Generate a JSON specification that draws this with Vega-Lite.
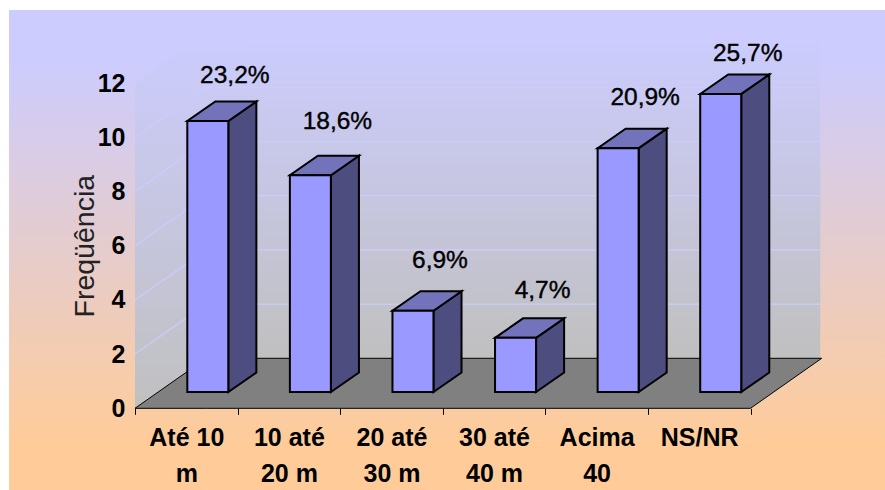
{
  "$schema": "https://vega.github.io/schema/vega-lite/v6.json",
  "width": 615.5,
  "height": 325.2,
  "autosize": "none",
  "padding": {"left": 135, "top": 83.1, "right": 134.5, "bottom": 81.7},
  "background": "white",
  "view": {"stroke": null},
  "config": {"font": "Liberation Sans"},
  "data": {
    "values": [
      {"faixa": "Até 10\nm", "freq": 10, "rotulo": "23,2%"},
      {"faixa": "10 até\n20 m", "freq": 8, "rotulo": "18,6%"},
      {"faixa": "20 até\n30 m", "freq": 3, "rotulo": "6,9%"},
      {"faixa": "30 até\n40 m", "freq": 2, "rotulo": "4,7%"},
      {"faixa": "Acima\n40", "freq": 9, "rotulo": "20,9%"},
      {"faixa": "NS/NR", "freq": 11, "rotulo": "25,7%"}
    ]
  },
  "transform": [
    {"window": [{"op": "row_number", "as": "n"}]},
    {"calculate": "datum.n - 1 + 0.51", "as": "esq"},
    {"calculate": "datum.freq + 0.6", "as": "topo"}
  ],
  "resolve": {"scale": {"x": "independent"}, "axis": {"x": "independent"}},
  "layer": [
    {
      "data": {"values": [{"parte": "painel"}]},
      "mark": {
        "type": "rect",
        "color": {
          "gradient": "linear", "x1": 0, "y1": 0, "x2": 0, "y2": 1,
          "stops": [{"offset": 0, "color": "#ccccff"}, {"offset": 0.1, "color": "#ccccff"}, {"offset": 0.9, "color": "#ffcc99"}, {"offset": 1, "color": "#ffcc99"}]
        }
      },
      "encoding": {
        "x": {"datum": -1.228, "type": "quantitative", "scale": {"domain": [0, 6], "nice": false, "zero": false}, "axis": null},
        "x2": {"datum": 7.32},
        "y": {
          "datum": 14.7, "type": "quantitative",
          "scale": {"domain": [0, 12], "nice": false, "zero": false},
          "axis": {
            "values": [0, 2, 4, 6, 8, 10, 12],
            "domain": false, "ticks": false, "grid": false, "zindex": 1,
            "labelFontSize": 25, "labelFontWeight": "bold", "labelColor": "#000000", "labelPadding": 10,
            "title": "Freqüência", "titleFontSize": 28.5, "titleFontWeight": "normal", "titleColor": "#222222", "titlePadding": -2
          }
        },
        "y2": {"datum": -3.1}
      }
    },
    {
      "data": {"values": [{"parte": "parede lateral"}]},
      "transform": [
        {"calculate": "[0, 0.694]", "as": "px"},
        {"calculate": "[0, 1.845]", "as": "baixo"},
        {"calculate": "[12, 13.845]", "as": "alto"},
        {"flatten": ["px", "baixo", "alto"]}
      ],
      "mark": {
        "type": "area", "orient": "vertical",
        "color": {
          "gradient": "linear", "x1": 0, "y1": 0, "x2": 0, "y2": 1,
          "stops": [{"offset": 0, "color": "#ccccff"}, {"offset": 1, "color": "#c0c0c0"}]
        }
      },
      "encoding": {
        "x": {"field": "px", "type": "quantitative", "scale": {"domain": [0, 6], "nice": false, "zero": false}, "axis": null},
        "y": {"field": "baixo", "type": "quantitative", "scale": {"domain": [0, 12], "nice": false, "zero": false}},
        "y2": {"field": "alto"}
      }
    },
    {
      "data": {"values": [{"parte": "parede do fundo"}]},
      "mark": {
        "type": "rect",
        "color": {
          "gradient": "linear", "x1": 0, "y1": 0, "x2": 0, "y2": 1,
          "stops": [{"offset": 0, "color": "#ccccff"}, {"offset": 1, "color": "#c0c0c0"}]
        }
      },
      "encoding": {
        "x": {"datum": 0.694, "type": "quantitative", "scale": {"domain": [0, 6], "nice": false, "zero": false}, "axis": null},
        "x2": {"datum": 6.68},
        "y": {"datum": 13.845, "type": "quantitative", "scale": {"domain": [0, 12], "nice": false, "zero": false}},
        "y2": {"datum": 1.845}
      }
    },
    {
      "data": {"values": [{"t": 2}, {"t": 4}, {"t": 6}, {"t": 8}, {"t": 10}, {"t": 12}]},
      "transform": [
        {"calculate": "datum.t + 1.845", "as": "fundo"}
      ],
      "mark": {"type": "rule", "color": "#ccccff", "strokeWidth": 1.2},
      "encoding": {
        "x": {"datum": 0.694, "type": "quantitative", "scale": {"domain": [0, 6], "nice": false, "zero": false}, "axis": null},
        "x2": {"datum": 6.68},
        "y": {"field": "fundo", "type": "quantitative", "scale": {"domain": [0, 12], "nice": false, "zero": false}}
      }
    },
    {
      "data": {"values": [{"t": 2}, {"t": 4}, {"t": 6}, {"t": 8}, {"t": 10}, {"t": 12}]},
      "transform": [
        {"calculate": "datum.t + 1.845", "as": "fundo"}
      ],
      "mark": {"type": "rule", "color": "#ccccff", "strokeWidth": 1.2},
      "encoding": {
        "x": {"datum": 0, "type": "quantitative", "scale": {"domain": [0, 6], "nice": false, "zero": false}, "axis": null},
        "x2": {"datum": 0.694},
        "y": {"field": "t", "type": "quantitative", "scale": {"domain": [0, 12], "nice": false, "zero": false}},
        "y2": {"field": "fundo"}
      }
    },
    {
      "data": {"values": [{"parte": "chão"}]},
      "transform": [
        {"calculate": "[0, 0.694, 6, 6.694]", "as": "px"},
        {"calculate": "[0, 0, 0, 1.845]", "as": "baixo"},
        {"calculate": "[0, 1.845, 1.845, 1.845]", "as": "alto"},
        {"flatten": ["px", "baixo", "alto"]}
      ],
      "mark": {"type": "area", "orient": "vertical", "color": "#808080", "stroke": "#000000", "strokeWidth": 1},
      "encoding": {
        "x": {"field": "px", "type": "quantitative", "scale": {"domain": [0, 6], "nice": false, "zero": false}, "axis": null},
        "y": {"field": "baixo", "type": "quantitative", "scale": {"domain": [0, 12], "nice": false, "zero": false}},
        "y2": {"field": "alto"}
      }
    },
    {
      "transform": [
        {"calculate": "[datum.esq + 0.4, datum.esq + 0.673]", "as": "px"},
        {"calculate": "[0.6, 1.32]", "as": "baixo"},
        {"calculate": "[datum.topo, datum.topo + 0.72]", "as": "alto"},
        {"flatten": ["px", "baixo", "alto"]}
      ],
      "mark": {"type": "area", "orient": "vertical", "color": "#4d4d80", "stroke": "#000000", "strokeWidth": 2, "strokeJoin": "miter"},
      "encoding": {
        "x": {"field": "px", "type": "quantitative", "scale": {"domain": [0, 6], "nice": false, "zero": false}, "axis": null},
        "y": {"field": "baixo", "type": "quantitative", "scale": {"domain": [0, 12], "nice": false, "zero": false}},
        "y2": {"field": "alto"},
        "detail": {"field": "n", "type": "nominal"}
      }
    },
    {
      "transform": [
        {"calculate": "[datum.esq, datum.esq + 0.273, datum.esq + 0.4, datum.esq + 0.673]", "as": "px"},
        {"calculate": "[datum.topo, datum.topo, datum.topo, datum.topo + 0.72]", "as": "baixo"},
        {"calculate": "[datum.topo, datum.topo + 0.72, datum.topo + 0.72, datum.topo + 0.72]", "as": "alto"},
        {"flatten": ["px", "baixo", "alto"]}
      ],
      "mark": {"type": "area", "orient": "vertical", "color": "#7373bb", "stroke": "#000000", "strokeWidth": 2, "strokeJoin": "miter"},
      "encoding": {
        "x": {"field": "px", "type": "quantitative", "scale": {"domain": [0, 6], "nice": false, "zero": false}, "axis": null},
        "y": {"field": "baixo", "type": "quantitative", "scale": {"domain": [0, 12], "nice": false, "zero": false}},
        "y2": {"field": "alto"},
        "detail": {"field": "n", "type": "nominal"}
      }
    },
    {
      "transform": [
        {"calculate": "0.6", "as": "base"}
      ],
      "mark": {"type": "bar", "width": 41, "xOffset": 21.5, "color": "#9999ff", "stroke": "#000000", "strokeWidth": 2},
      "encoding": {
        "x": {
          "field": "faixa", "type": "nominal", "sort": null,
          "scale": {"paddingInner": 0, "paddingOuter": 0},
          "axis": {
            "title": null, "labelAngle": 0, "tickBand": "extent", "zindex": 1,
            "domain": false, "tickColor": "#000000", "tickSize": 6, "tickWidth": 1,
            "labelExpr": "split(datum.label, '\\n')",
            "labelFontSize": 25, "labelFontWeight": "bold", "labelColor": "#000000",
            "labelLineHeight": 36, "labelPadding": 11, "labelLimit": 0, "labelOverlap": false, "labelBound": false, "labelFlush": false
          }
        },
        "y": {"field": "topo", "type": "quantitative", "scale": {"domain": [0, 12], "nice": false, "zero": false}},
        "y2": {"field": "base"}
      }
    },
    {
      "transform": [
        {"calculate": "datum.esq + 0.463", "as": "xrot"},
        {"calculate": "datum.topo + 0.72 + [0.95, 1.25, 1.11, 1.0, 1.14, 0.74][datum.n - 1]", "as": "yrot"}
      ],
      "mark": {"type": "text", "fontSize": 24.5, "color": "#000000", "stroke": "#000000", "strokeWidth": 0.4, "baseline": "middle", "align": "center"},
      "encoding": {
        "x": {"field": "xrot", "type": "quantitative", "scale": {"domain": [0, 6], "nice": false, "zero": false}, "axis": null},
        "y": {"field": "yrot", "type": "quantitative", "scale": {"domain": [0, 12], "nice": false, "zero": false}},
        "text": {"field": "rotulo", "type": "nominal"}
      }
    }
  ]
}
